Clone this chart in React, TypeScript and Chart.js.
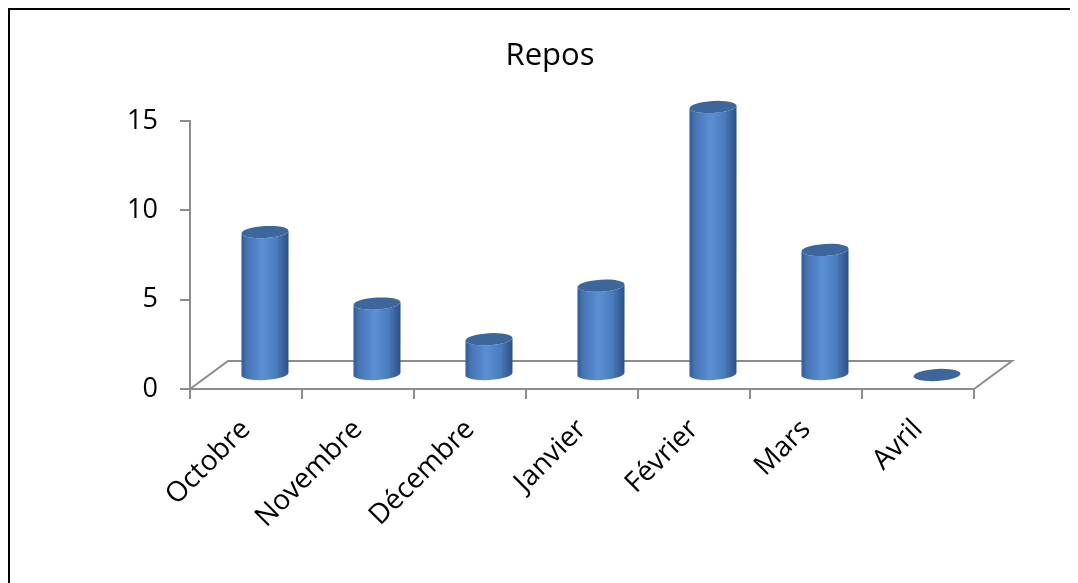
import React, { useEffect, useRef } from 'react';
import { Chart, registerables } from 'chart.js';

Chart.register(...registerables);

const categories = ['Octobre', 'Novembre', 'Décembre', 'Janvier', 'Février', 'Mars', 'Avril'];
const reposValues = [8, 4, 2, 5, 15, 7, 0];
const yMin = 0;
const yMax = 15;
const yStep = 5;
const chartTitle = 'Repos';

const DEPTH_X = 38;
const DEPTH_Y = 28;
const AXIS_COLOR = '#8c8c8c';
const FONT = "'Open Sans', 'DejaVu Sans', sans-serif";

const floorPlugin = {
  id: 'floor3d',
  beforeDatasetsDraw(chart: any) {
    const { ctx, chartArea } = chart;
    const { left, right, bottom } = chartArea;
    ctx.save();
    ctx.strokeStyle = AXIS_COLOR;
    ctx.lineWidth = 2;
    ctx.beginPath();
    ctx.moveTo(left, bottom);
    ctx.lineTo(left + DEPTH_X, bottom - DEPTH_Y);
    ctx.lineTo(right + DEPTH_X, bottom - DEPTH_Y);
    ctx.lineTo(right, bottom);
    ctx.stroke();
    ctx.restore();
  },
};

const cylinderPlugin = {
  id: 'cylinders',
  afterDatasetsDraw(chart: any) {
    const { ctx } = chart;
    const meta = chart.getDatasetMeta(0);
    const tilt = -0.06;
    meta.data.forEach((bar: any) => {
      const { x, y, base, width } = bar.getProps(['x', 'y', 'base', 'width'], true);
      const cx = x + DEPTH_X / 2;
      const topY = y - DEPTH_Y / 2;
      const baseY = base - DEPTH_Y / 2;
      const rx = width / 2;
      const ry = 6;
      ctx.save();
      if (baseY - topY > 0.5) {
        const g = ctx.createLinearGradient(cx - rx, 0, cx + rx, 0);
        g.addColorStop(0, '#305c96');
        g.addColorStop(0.12, '#4575b5');
        g.addColorStop(0.45, '#5b8fd4');
        g.addColorStop(0.75, '#4a7bbd');
        g.addColorStop(1, '#2b5085');
        ctx.beginPath();
        ctx.moveTo(cx - rx, topY);
        ctx.lineTo(cx - rx, baseY);
        ctx.ellipse(cx, baseY, rx, ry, tilt, Math.PI, 0, true);
        ctx.lineTo(cx + rx, topY);
        ctx.ellipse(cx, topY, rx, ry, tilt, 0, Math.PI, false);
        ctx.closePath();
        ctx.fillStyle = g;
        ctx.fill();
      }
      ctx.beginPath();
      ctx.ellipse(cx, topY, rx, ry, tilt, 0, Math.PI * 2);
      ctx.fillStyle = '#3d679c';
      ctx.fill();
      ctx.restore();
    });
  },
};

export default function App() {
  const canvasRef = useRef<HTMLCanvasElement | null>(null);

  useEffect(() => {
    if (!canvasRef.current) return;
    const chart = new Chart(canvasRef.current, {
      type: 'bar',
      data: {
        labels: categories,
        datasets: [
          {
            label: chartTitle,
            data: reposValues,
            backgroundColor: 'rgba(0,0,0,0)',
            borderWidth: 0,
            categoryPercentage: 0.42,
            barPercentage: 1,
          },
        ],
      },
      options: {
        responsive: false,
        animation: false,
        layout: { padding: { left: 12, right: 0, top: 0, bottom: 0 } },
        plugins: {
          legend: { display: false },
          tooltip: { enabled: false },
          title: {
            display: true,
            text: chartTitle,
            color: '#000',
            font: { family: FONT, size: 31, weight: 'normal', lineHeight: 1.2 },
            padding: { top: 28, bottom: 45.8 },
          },
        },
        scales: {
          x: {
            grid: {
              display: true,
              drawOnChartArea: false,
              drawTicks: true,
              tickLength: 10,
              color: AXIS_COLOR,
              lineWidth: 2,
              offset: true,
            },
            border: { display: true, color: AXIS_COLOR, width: 2 },
            ticks: {
              color: '#000',
              font: { family: FONT, size: 28 },
              minRotation: 45,
              maxRotation: 45,
              padding: 14,
            },
            afterFit: (s: any) => {
              s.height = 194;
            },
          },
          y: {
            min: yMin,
            max: yMax,
            grid: {
              display: true,
              drawOnChartArea: false,
              drawTicks: true,
              tickLength: 10,
              color: AXIS_COLOR,
              lineWidth: 2,
            },
            border: { display: true, color: AXIS_COLOR, width: 2 },
            ticks: {
              stepSize: yStep,
              color: '#000',
              font: { family: FONT, size: 27 },
              padding: 22,
            },
            afterFit: (s: any) => {
              s.width = 168;
            },
          },
          yRight: {
            type: 'linear',
            position: 'right',
            display: true,
            grid: { display: false },
            border: { display: false },
            ticks: { display: false },
            afterFit: (s: any) => {
              s.width = 104;
            },
          },
        },
      },
      plugins: [floorPlugin, cylinderPlugin],
    } as any);
    return () => chart.destroy();
  }, []);

  return (
    <div
      style={{
        position: 'relative',
        width: 1070,
        height: 575,
        borderLeft: '2px solid #000',
        borderTop: '2px solid #000',
        boxSizing: 'border-box',
        overflow: 'hidden',
        background: '#fff',
      }}
    >
      <canvas ref={canvasRef} width={1068} height={573} style={{ display: 'block', width: 1068, height: 573 }} />
    </div>
  );
}
